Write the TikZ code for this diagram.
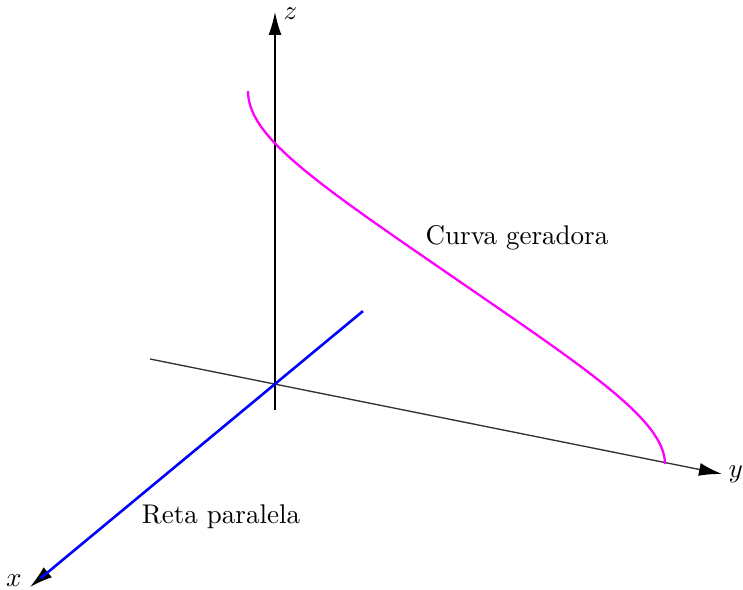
\documentclass[tikz,border=0pt]{standalone}
\usetikzlibrary{arrows.meta,calc}
\definecolor{curvemag}{RGB}{255,0,255}
\definecolor{lineblue}{RGB}{0,0,255}
\begin{document}
\begin{tikzpicture}[x=0.37pt,y=-0.37pt,
  axis/.style={line width=0.5pt,-{Latex[length=8.5pt,width=4.8pt,fill=black,color=black]}},
  lbl/.style={inner sep=0pt}]
\useasboundingbox (0,0) rectangle (743,590);
\coordinate (O) at (275,384);
\coordinate (zb) at (275,410);
\coordinate (zt) at (275,12);
\coordinate (yb) at (150,359);
\coordinate (yt) at (722,474);
\coordinate (xt) at (30,587);
\coordinate (rb) at ($(O)!-0.359!(xt)$);
\coordinate (c0) at (248,91);
\coordinate (cm) at (440,268);
\coordinate (c1) at (665,464);
% axes
\draw[axis,black!80] (yb) -- (yt);
\draw[axis] (zb) -- (zt);
\draw[axis] (O) -- (xt);
% curve
\draw[curvemag,line width=0.85pt] (c0) .. controls (248,134) and (306,176) .. (cm)
  .. controls (582,366) and (665,419) .. (c1);
% parallel line
\draw[lineblue,line width=0.95pt,shorten >=5pt] (rb) -- (xt);
% labels
\node[lbl,anchor=west] (zl) at (283,14) {$z$};
\node[lbl,anchor=west] (yl) at (728,474) {$y$};
\node[lbl,anchor=east] (xl) at (22,581) {$x$};
\node (cg) at (517,238) {Curva geradora};
\node (rp) at (221,517) {Reta paralela};
\end{tikzpicture}
\end{document}
